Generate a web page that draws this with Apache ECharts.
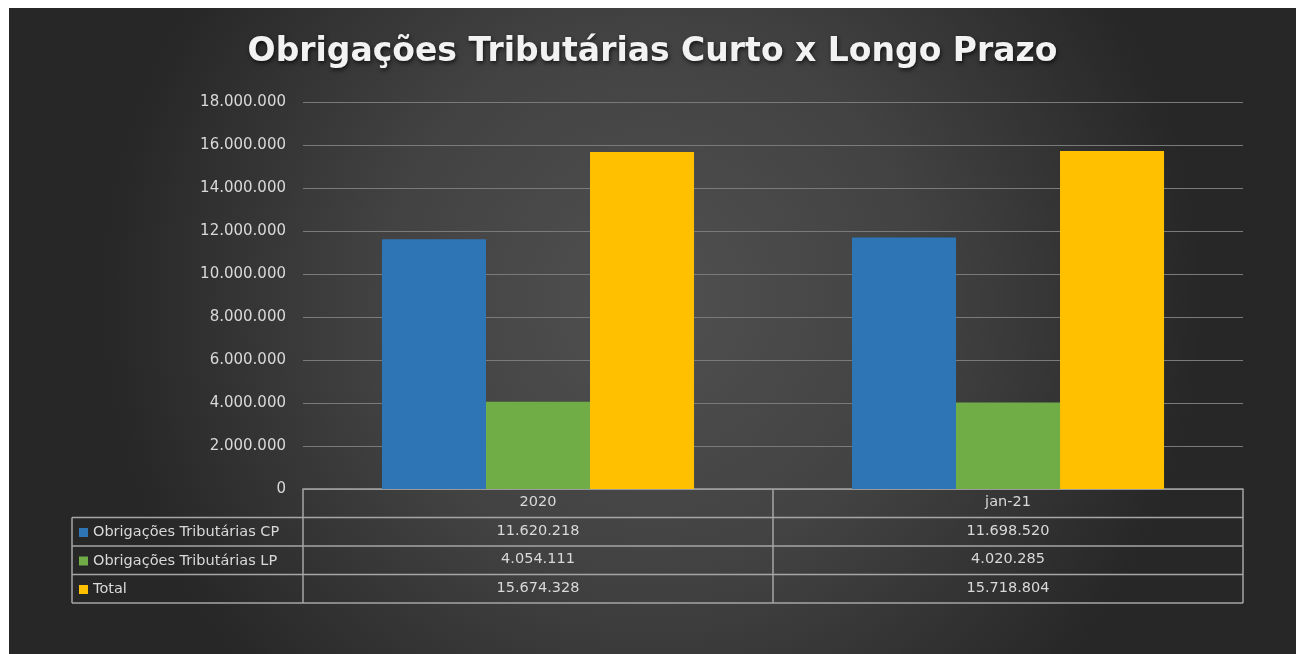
<!DOCTYPE html>
<html>
<head>
<meta charset="utf-8">
<title>Obrigações Tributárias Curto x Longo Prazo</title>
<script src="https://cdn.jsdelivr.net/npm/echarts@6/dist/echarts.min.js"></script>
<style>
  html, body { margin: 0; padding: 0; background: #ffffff; }
  #chart { position: absolute; left: 9px; top: 8px; width: 1287px; height: 646px; }
</style>
</head>
<body>
<div id="chart"></div>
<script>
// dados
const categories = ["2020", "jan-21"];
const seriesNames = ["Obrigações Tributárias CP", "Obrigações Tributárias LP", "Total"];
const valuesCP = [11620218, 11698520];
const valuesLP = [4054111, 4020285];
const valuesTotal = [15674328, 15718804];
const yTicks = { min: 0, max: 18000000, interval: 2000000 };

const colors = ["#2e75b6", "#70ad47", "#ffc000"];
const textColor = "#d9d9d9";
const tableLine = "#a6a6a6";

// 11620218 -> 11.620.218
function fmt(v) {
  return String(v).replace(/\B(?=(\d{3})+(?!\d))/g, ".");
}

const chart = echarts.init(document.getElementById("chart"));

// geometria da tabela (px do container)
const gridLeft = 294, gridRight = 53, gridBottom = 165, gridTop = 94;
const W = 1287, H = 646;
const tableTop = H - gridBottom;       // linha do eixo
const rowH = 28.5;
const tableLeft = 63;
const tableRight = W - gridRight;
const midX = gridLeft + (tableRight - gridLeft) / 2;

const rows = [categories, valuesCP.map(fmt), valuesLP.map(fmt), valuesTotal.map(fmt)];

// eixos x: um por linha da tabela
const xAxes = rows.map((labels, i) => ({
  type: "category",
  data: categories,
  position: "bottom",
  offset: i * rowH,
  axisLine: { show: i === 0, lineStyle: { color: tableLine, width: 1.5 } },
  axisTick: { show: false },
  axisLabel: {
    color: textColor,
    fontFamily: "DejaVu Sans",
    fontSize: 14.5,
    margin: 6,
    formatter: (v, idx) => labels[idx],
  },
}));

// linhas da tabela
const lines = [];
function hline(x1, x2, y) {
  lines.push({ type: "line", shape: { x1, y1: y, x2, y2: y }, style: { stroke: tableLine, lineWidth: 1.5 }, silent: true });
}
function vline(x, y1, y2) {
  lines.push({ type: "line", shape: { x1: x, y1, x2: x, y2 }, style: { stroke: tableLine, lineWidth: 1.5 }, silent: true });
}
for (let r = 1; r <= 4; r++) {
  hline(tableLeft, tableRight, tableTop + r * rowH);
}
vline(gridLeft, tableTop, tableTop + 4 * rowH);
vline(midX, tableTop, tableTop + 4 * rowH);
vline(tableRight, tableTop, tableTop + 4 * rowH);
vline(tableLeft, tableTop + rowH, tableTop + 4 * rowH);

const series = [valuesCP, valuesLP, valuesTotal].map((data, i) => ({
  name: seriesNames[i],
  type: "bar",
  xAxisIndex: 0,
  barGap: "0%",
  barCategoryGap: "33.6%",
  itemStyle: { color: colors[i] },
  data: data,
}));

chart.setOption({
  backgroundColor: {
    type: "radial",
    x: 0.5, y: 0.45, r: 0.85,
    colorStops: [
      { offset: 0, color: "#505050" },
      { offset: 0.5, color: "#424242" },
      { offset: 1, color: "#272727" },
    ],
  },
  animation: false,
  title: {
    text: "Obrigações Tributárias Curto x Longo Prazo",
    left: "center",
    top: 23,
    textStyle: {
      color: "#f2f2f2",
      fontFamily: "DejaVu Sans",
      fontWeight: "bold",
      fontSize: 33,
      textShadowColor: "rgba(0,0,0,0.7)",
      textShadowBlur: 4,
      textShadowOffsetX: 1,
      textShadowOffsetY: 2,
    },
  },
  legend: {
    orient: "vertical",
    left: tableLeft + 2,
    top: tableTop + rowH + 2,
    itemGap: 12.5,
    icon: "rect",
    itemWidth: 9,
    itemHeight: 9,
    selectedMode: false,
    textStyle: { color: textColor, fontFamily: "DejaVu Sans", fontSize: 14.5, lineHeight: 16 },
    data: seriesNames,
  },
  grid: { left: gridLeft, right: gridRight, top: gridTop, bottom: gridBottom, containLabel: false },
  xAxis: xAxes,
  yAxis: {
    type: "value",
    min: yTicks.min,
    max: yTicks.max,
    interval: yTicks.interval,
    axisLine: { show: false },
    axisTick: { show: false },
    splitLine: { lineStyle: { color: "#7a7a7a", width: 1.2 } },
    axisLabel: {
      color: textColor,
      fontFamily: "DejaVu Sans",
      fontSize: 15,
      margin: 17,
      formatter: (v) => fmt(v),
    },
  },
  graphic: lines,
  series: series,
});
</script>
</body>
</html>
